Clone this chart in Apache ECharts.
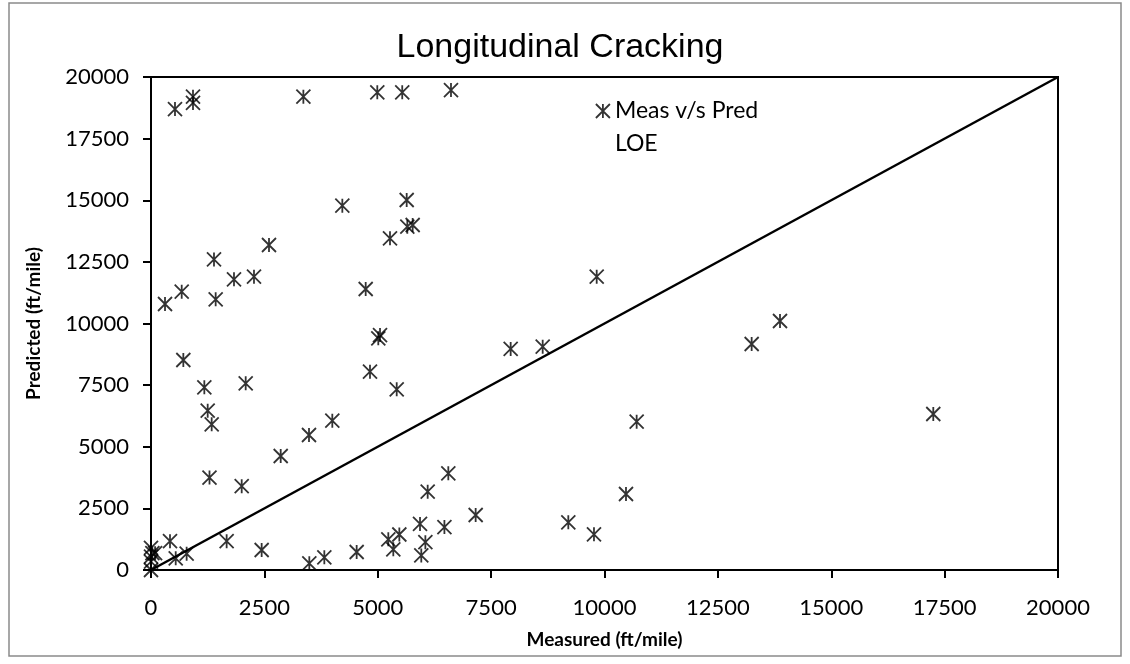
<!DOCTYPE html>
<html>
<head>
<meta charset="utf-8">
<script src="https://cdn.jsdelivr.net/npm/echarts@6/dist/echarts.min.js"></script>
<style>
  html, body { margin: 0; padding: 0; background: #fff; }
  #chart { width: 1130px; height: 664px; }
</style>
</head>
<body>
<div id="chart"></div>
<script>
// Measured vs predicted longitudinal cracking (ft/mile)
const measured = [
  529, 926, 926, 3360, 4990, 5540, 6615,
  4219, 2602, 5638, 5270, 5652, 5770,
  1389, 677, 309, 1426, 1830, 2271,
  713, 1176, 2088, 1250, 1338, 3484, 3998,
  4734, 5050, 5012, 4829, 5418,
  2860, 1290, 2000,
  9828, 7931, 8637, 10709,
  6556, 6101, 10474, 7159, 9202, 9768,
  5932, 6470, 5476, 5233, 5343, 6050, 5960, 4535,
  13870, 13245, 17250,
  2440, 3491, 3822, 1668, 545, 786, 419,
  0, 30, 90, 0, 0, 0
];
const predicted = [
  18700, 19200, 18950, 19200, 19380, 19380, 19470,
  14780, 13185, 15010, 13456, 13927, 13996,
  12600, 11290, 10791, 10982, 11793, 11899,
  8519, 7411, 7573, 6464, 5910, 5477, 6058,
  11400, 9533, 9398, 8045, 7330,
  4625, 3750, 3400,
  11899, 8966, 9060, 6017,
  3922, 3178, 3083, 2231, 1934, 1447,
  1870, 1740, 1440, 1244, 838, 1130, 590, 730,
  10101, 9168, 6329,
  811, 270, 515, 1170, 474, 660, 1170,
  900, 680, 680, 540, 340, 0
];
// Line of equality
const loeX = [0, 20000];
const loeY = [0, 20000];
// Axis ticks (both axes share the same scale)
const tickValues = [0, 2500, 5000, 7500, 10000, 12500, 15000, 17500, 20000];
const tickLabels = ['0', '2500', '5000', '7500', '10000', '12500', '15000', '17500', '20000'];

const seriesNames = ['Meas v/s Pred', 'LOE'];
const titleText = 'Longitudinal Cracking';
const xTitle = 'Measured (ft/mile)';
const yTitle = 'Predicted (ft/mile)';

const starPath = 'path://M0 0 L12 12 M12 0 L0 12 M6 0 L6 12';
const labelFont = 'Lato, "Noto Sans", sans-serif';

function tickFormatter(v) {
  const i = tickValues.indexOf(v);
  return i >= 0 ? tickLabels[i] : '';
}

const chart = echarts.init(document.getElementById('chart'), null, { renderer: 'canvas' });

const axisCommon = {
  type: 'value',
  min: 0,
  max: 20000,
  interval: 2500,
  splitLine: { show: false },
  axisLine: { show: true, onZero: false, lineStyle: { color: '#000', width: 2 } },
  axisTick: { show: true, inside: false, length: 8, lineStyle: { color: '#000', width: 2 } },
  axisLabel: { color: '#000', fontFamily: labelFont, fontSize: 22, formatter: tickFormatter },
  nameLocation: 'middle',
  nameTextStyle: { color: '#000', fontFamily: labelFont, fontSize: 19, fontWeight: 'bold' }
};

chart.setOption({
  animation: false,
  backgroundColor: '#fff',
  title: {
    text: titleText,
    left: 555,
    textAlign: 'center',
    top: 26,
    textStyle: { color: '#000', fontFamily: '"Liberation Sans", Arial, sans-serif', fontSize: 34, fontWeight: 'normal' }
  },
  graphic: [{
    type: 'rect',
    shape: { x: 9, y: 3, width: 1112, height: 653 },
    style: { fill: 'none', stroke: '#8a8a8a', lineWidth: 1.5 },
    silent: true
  }],
  legend: {
    orient: 'vertical',
    left: 590,
    top: 94,
    itemWidth: 14,
    itemHeight: 14,
    itemGap: 9,
    textStyle: { color: '#000', fontFamily: labelFont, fontSize: 23, lineHeight: 24 },
    data: [
      { name: seriesNames[0], icon: starPath, itemStyle: { color: 'transparent', borderColor: '#000', borderWidth: 1.8 } },
      { name: seriesNames[1], icon: 'rect', itemStyle: { opacity: 0 } }
    ]
  },
  grid: {
    left: 151, right: 72, top: 77, bottom: 94,
    show: true, borderColor: '#000', borderWidth: 2, backgroundColor: 'transparent'
  },
  xAxis: Object.assign({}, axisCommon, {
    name: xTitle,
    nameGap: 60,
    axisLabel: Object.assign({}, axisCommon.axisLabel, { margin: 27 })
  }),
  yAxis: Object.assign({}, axisCommon, {
    name: yTitle,
    nameGap: 108,
    axisLabel: Object.assign({}, axisCommon.axisLabel, { margin: 22 })
  }),
  series: [
    {
      name: seriesNames[0],
      type: 'scatter',
      symbol: starPath,
      symbolSize: 14,
      itemStyle: { color: 'transparent', borderColor: '#000', borderWidth: 1.8 },
      data: measured.map((m, i) => [m, predicted[i]]),
      z: 3
    },
    {
      name: seriesNames[1],
      type: 'line',
      showSymbol: false,
      symbol: 'none',
      lineStyle: { color: '#000', width: 2.5 },
      data: loeX.map((x, i) => [x, loeY[i]]),
      z: 2
    }
  ]
});
</script>
</body>
</html>
